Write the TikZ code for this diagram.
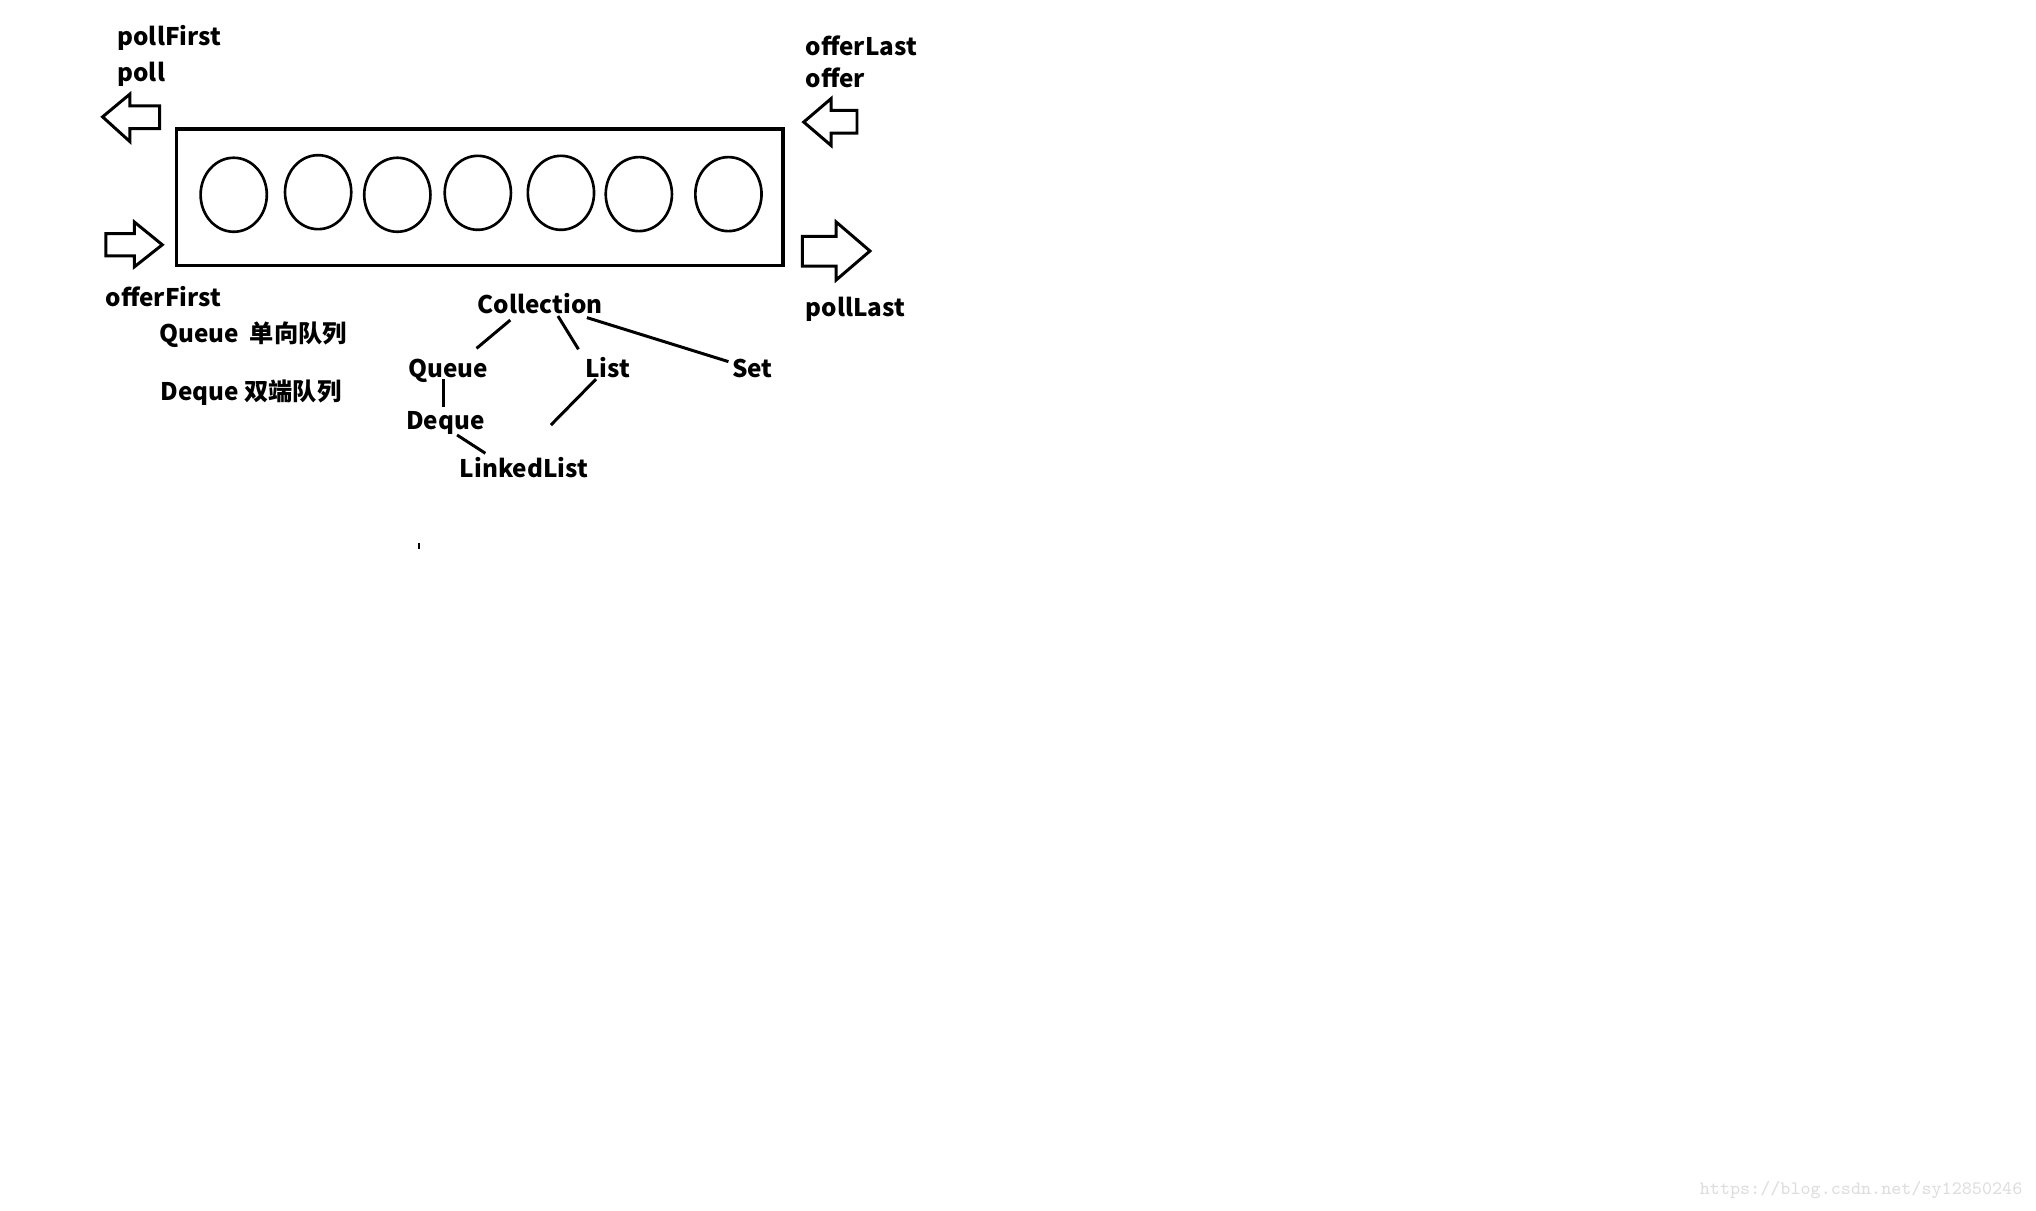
\documentclass[tikz,border=0pt]{standalone}
\usepackage{fontspec}
\setmainfont{Noto Sans CJK SC}
\usetikzlibrary{positioning}

\begin{document}
\begin{tikzpicture}[x=0.012985cm, y=-0.012985cm, line join=miter,
	every node/.style={font=\fontsize{6.9}{9}\selectfont\bfseries, inner sep=0pt},
	lbl/.style={anchor=base west}, cls/.style={anchor=base}, link/.style={line width=0.85pt}]
	\useasboundingbox (0,0) rectangle (1568,932);
	% the deque and its elements
	\draw[line width=1pt] (136,99.5) rectangle (603,204.5);
	\foreach \x/\y in {180/150, 245/148, 306/150, 368/148.5, 432/148.5, 492/149.5, 561/149.5}
		{\draw[line width=0.75pt] (\x,\y) ellipse [x radius=25.5, y radius=28.5];}
	% block arrows at both ends
	\draw[line width=0.85pt] (79,90) -- (100,72.5) -- (100,81.5) -- (123,81.5) -- (123,99) -- (100,99) -- (100,109) -- cycle;
	\draw[line width=0.85pt] (81.5,180) -- (103.5,180) -- (103.5,171) -- (125,188.5) -- (103.5,205.5) -- (103.5,197) -- (81.5,197) -- cycle;
	\draw[line width=0.85pt] (619,94) -- (640,76) -- (640,85) -- (660,85) -- (660,102.5) -- (640,102.5) -- (640,112) -- cycle;
	\draw[line width=0.85pt] (618,182) -- (644,182) -- (644,171) -- (670,193.3) -- (644,215.6) -- (644,205) -- (618,205) -- cycle;
	\node[lbl] (pollfirst) at (90,35) {pollFirst};
	\node[lbl] (poll) at (90,63) {poll};
	\node[lbl] (offerfirst) at (81,236) {offerFirst};
	\node[lbl] (offerlast) at (620,42.5) {offerLast};
	\node[lbl] (offer) at (620,67.5) {offer};
	\node[lbl] (polllast) at (620,244) {pollLast};
	\node[lbl] (queuenote) at (122,263.5) {Queue\ \ 单向队列};
	\node[lbl] (dequenote) at (123,308.5) {Deque 双端队列};
	% class hierarchy
	\node[cls] (coll) at (416,241.5) {Collection};
	\node[cls] (queue) at (345,290.5) {Queue};
	\node[cls] (list) at (468,290.5) {List};
	\node[cls] (set) at (579.5,290.5) {Set};
	\node[cls] (deque) at (343,331) {Deque};
	\node[cls] (linked) at (403.5,368) {LinkedList};
	\draw[link] ([shift={(-23,5)}]coll.base) -- ([shift={(22,-22.2)}]queue.base);
	\draw[link] ([shift={(13.7,1.9)}]coll.base) -- ([shift={(-22.5,-21.5)}]list.base);
	\draw[link] ([shift={(36,3.1)}]coll.base) -- ([shift={(-18.5,-12)}]set.base);
	\draw[link] ([shift={(-3.7,1.5)}]queue.base) -- ([shift={(-1.7,-17.3)}]deque.base);
	\draw[link] ([shift={(-9,1.5)}]list.base) -- ([shift={(20.8,-40.7)}]linked.base);
	\draw[link] ([shift={(9,4)}]deque.base) -- ([shift={(-29.7,-18.9)}]linked.base);
	\draw[line width=0.6pt] (323,418.5) -- (323,422.5);
	\node[anchor=base east, font=\fontsize{5.4}{6}\selectfont\ttfamily, text=black!13] (mark) at (1558,920) {https://blog.csdn.net/sy12850246};
\end{tikzpicture}
\end{document}
